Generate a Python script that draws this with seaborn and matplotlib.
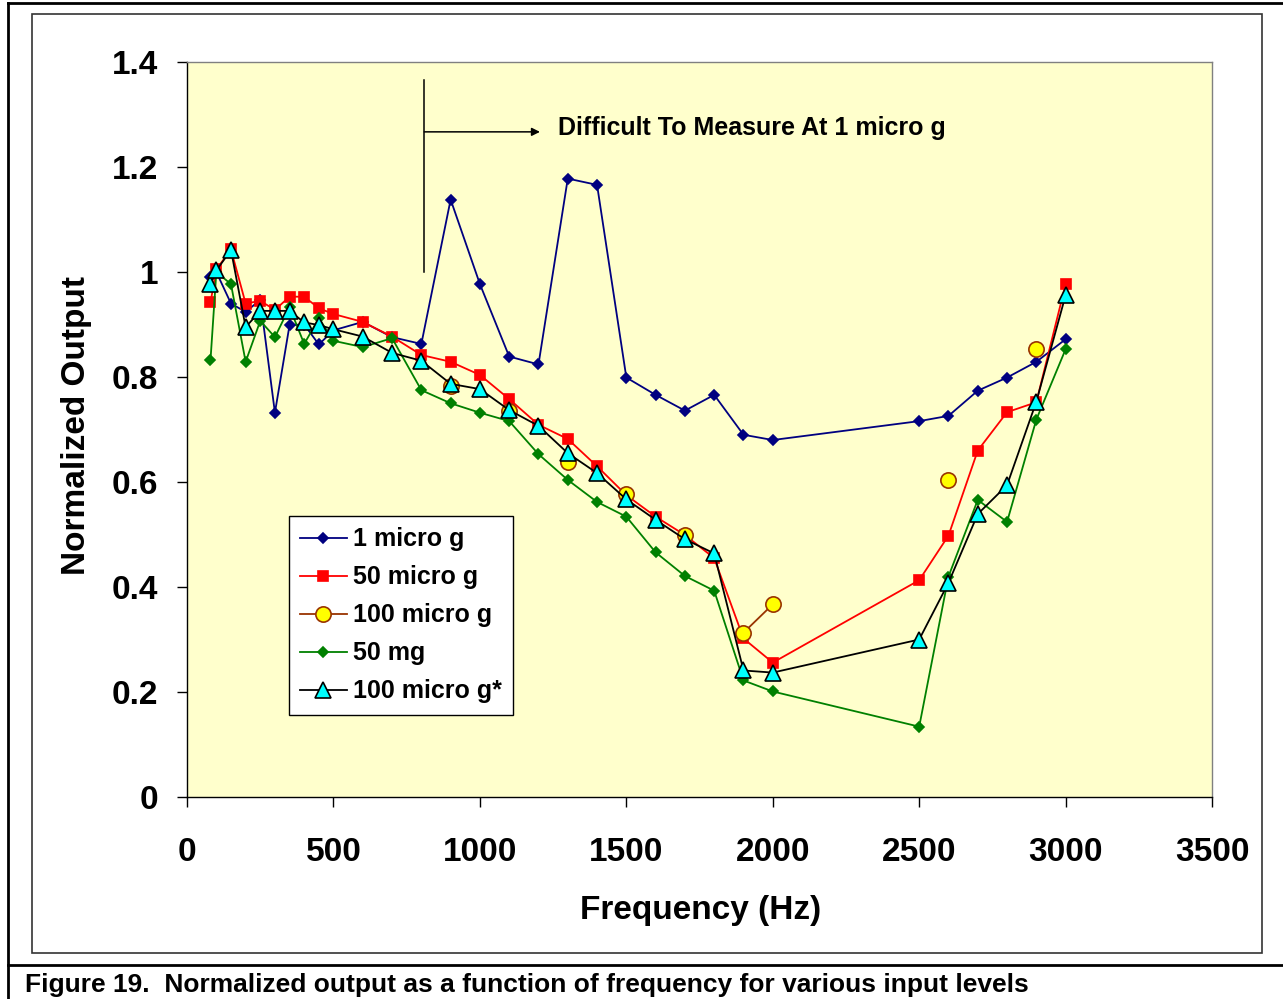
import numpy as np
import pandas as pd
import matplotlib
matplotlib.use("Agg")
import matplotlib.pyplot as plt
import seaborn as sns
from matplotlib.lines import Line2D
from matplotlib.patches import Rectangle
from matplotlib.ticker import FuncFormatter

# ─── data ───────────────────────────────────────────────────
freq = [80, 100, 150, 200, 250, 300, 350, 400, 450, 500, 600, 700, 800,
        900, 1000, 1100, 1200, 1300, 1400, 1500, 1600, 1700, 1800, 1900,
        2000, 2500, 2600, 2700, 2800, 2900, 3000]

micro_g_1 = [0.990, 1.000, 0.940, 0.924, 0.947, 0.732, 0.899, 0.900, 0.862,
             0.889, 0.905, 0.876, 0.863, 1.138, 0.977, 0.839, 0.824, 1.178,
             1.166, 0.799, 0.766, 0.736, 0.766, 0.690, 0.680, 0.716, 0.726,
             0.774, 0.799, 0.829, 0.872]

micro_g_50 = [0.942, 1.005, 1.043, 0.940, 0.945, 0.928, 0.953, 0.953, 0.931,
              0.920, 0.905, 0.877, 0.842, 0.829, 0.804, 0.758, 0.709, 0.682,
              0.630, 0.575, 0.534, 0.499, 0.455, 0.302, 0.256, 0.413, 0.498,
              0.660, 0.733, 0.752, 0.977]

nan = np.nan
micro_g_100 = [nan, nan, nan, nan, nan, nan, nan, nan, nan, nan, nan, nan, nan,
               0.783, nan, 0.736, nan, 0.639, nan, 0.578, nan, 0.499, nan,
               0.313, 0.367, nan, 0.603, nan, nan, 0.853, nan]

mg_50 = [0.832, 1.000, 0.977, 0.829, 0.907, 0.876, 0.933, 0.863, 0.912,
         0.869, 0.857, 0.874, 0.775, 0.750, 0.732, 0.716, 0.653, 0.604,
         0.562, 0.534, 0.466, 0.421, 0.393, 0.222, 0.201, 0.134, 0.420,
         0.566, 0.524, 0.719, 0.853]

micro_g_100_star = [0.978, 1.003, 1.042, 0.895, 0.926, 0.926, 0.926, 0.904,
                    0.899, 0.891, 0.877, 0.846, 0.831, 0.787, 0.777, 0.737,
                    0.707, 0.655, 0.617, 0.567, 0.528, 0.491, 0.464, 0.241,
                    0.237, 0.300, 0.408, 0.539, 0.594, 0.753, 0.956]

labels = ["1 micro g", "50 micro g", "100 micro g", "50 mg", "100 micro g*"]
x_ticks = [0, 500, 1000, 1500, 2000, 2500, 3000, 3500]
y_ticks = [0, 0.2, 0.4, 0.6, 0.8, 1.0, 1.2, 1.4]
note = "Difficult To Measure At 1 micro g"
caption = "Figure 19.  Normalized output as a function of frequency for various input levels"

# ─── styles (Excel-ish) ─────────────────────────────────────
styles = [
    dict(color="#000080", marker="D", markersize=5.0, markerfacecolor="#000080", markeredgecolor="#000080"),
    dict(color="#FF0000", marker="s", markersize=6.5, markerfacecolor="#FF0000", markeredgecolor="#FF0000"),
    dict(color="#993300", marker="o", markersize=11, markerfacecolor="#FFFF00", markeredgecolor="#993300"),
    dict(color="#008000", marker="D", markersize=5.0, markerfacecolor="#008000", markeredgecolor="#008000"),
    dict(color="#000000", marker="^", markersize=11.5, markerfacecolor="#00FFFF", markeredgecolor="#000000"),
]
series = [micro_g_1, micro_g_50, micro_g_100, mg_50, micro_g_100_star]

plt.rcParams["font.family"] = ["Liberation Sans", "DejaVu Sans"]
plt.rcParams["font.weight"] = "bold"

fig = plt.figure(figsize=(12.83, 9.99), dpi=100)
ax = fig.add_axes([0.1458, 0.2022, 0.7989, 0.7357])
ax.set_facecolor("#FFFFCC")

# ─── series ─────────────────────────────────────────────────
for i, (vals, st) in enumerate(zip(series, styles)):
    df = pd.DataFrame({"freq": freq, "out": vals})
    df["seg"] = df["out"].isna().cumsum()  # break line at gaps like Excel
    df = df.dropna()
    sns.lineplot(data=df, x="freq", y="out", units="seg", estimator=None,
                 linewidth=1.3, markeredgewidth=1.2, ax=ax, zorder=3 + i,
                 legend=False, **st)

# ─── annotation ─────────────────────────────────────────────
ax.plot([810, 810], [1.0, 1.366], color="black", lw=1.1, zorder=2)
ax.annotate("", xy=(1205, 1.267), xytext=(810, 1.267),
            arrowprops=dict(arrowstyle="-|>", color="black", lw=1.1,
                            mutation_scale=12, shrinkA=0, shrinkB=0))
ax.text(1267, 1.274, note, fontsize=18, fontweight="bold", va="center")

# ─── axes ───────────────────────────────────────────────────
ax.set_xlim(0, 3500)
ax.set_ylim(0, 1.4)
ax.set_xticks(x_ticks)
ax.set_yticks(y_ticks)
ax.yaxis.set_major_formatter(FuncFormatter(lambda v, p: f"{v:g}"))
ax.tick_params(axis="both", direction="out", length=7, width=1, labelsize=24,
               colors="black")
ax.tick_params(axis="x", pad=22)
ax.tick_params(axis="y", pad=14)
for lab in ax.get_xticklabels() + ax.get_yticklabels():
    lab.set_fontweight("bold")
for side in ["left", "bottom"]:
    ax.spines[side].set_color("black")
    ax.spines[side].set_linewidth(1)
for side in ["top", "right"]:
    ax.spines[side].set_color("#808080")
    ax.spines[side].set_linewidth(1)

ax.set_xlabel("Frequency (Hz)", fontsize=24, fontweight="bold", va="center")
ax.xaxis.set_label_coords(0.5005, -0.155)
ax.set_ylabel("Normalized Output", fontsize=24, fontweight="bold", va="center")
ax.yaxis.set_label_coords(-0.1083, 0.5048)

# ─── legend ─────────────────────────────────────────────────
handles = [Line2D([0], [0], linewidth=1.3, markeredgewidth=1.2, **st) for st in styles]
leg = ax.legend(handles, labels, loc="upper left", bbox_to_anchor=(0.0995, 0.382),
                borderaxespad=0, fontsize=18, frameon=True, fancybox=False,
                edgecolor="black", facecolor="white", framealpha=1,
                handlelength=1.85, handletextpad=0.25, labelspacing=0.56,
                borderpad=0.45, numpoints=1)
leg.get_frame().set_linewidth(1)
for t in leg.get_texts():
    t.set_fontweight("bold")

# ─── page frame and caption ─────────────────────────────────
fig.patches.append(Rectangle((32 / 1283, 1 - 953 / 999), 1230 / 1283, 939 / 999,
                             transform=fig.transFigure, fill=False,
                             edgecolor="#333333", lw=1.2))
frame_kw = dict(transform=fig.transFigure, color="black", lw=2)
fig.lines.append(Line2D([8 / 1283, 8 / 1283], [1 - 3 / 999, 0], **frame_kw))
fig.lines.append(Line2D([8 / 1283, 1], [1 - 3 / 999, 1 - 3 / 999], **frame_kw))
fig.lines.append(Line2D([8 / 1283, 1], [1 - 965 / 999, 1 - 965 / 999], **frame_kw))
fig.text(25 / 1283, 1 - 985 / 999, caption, fontsize=19, fontweight="bold", va="center")

fig.savefig("out.png", dpi=100)
